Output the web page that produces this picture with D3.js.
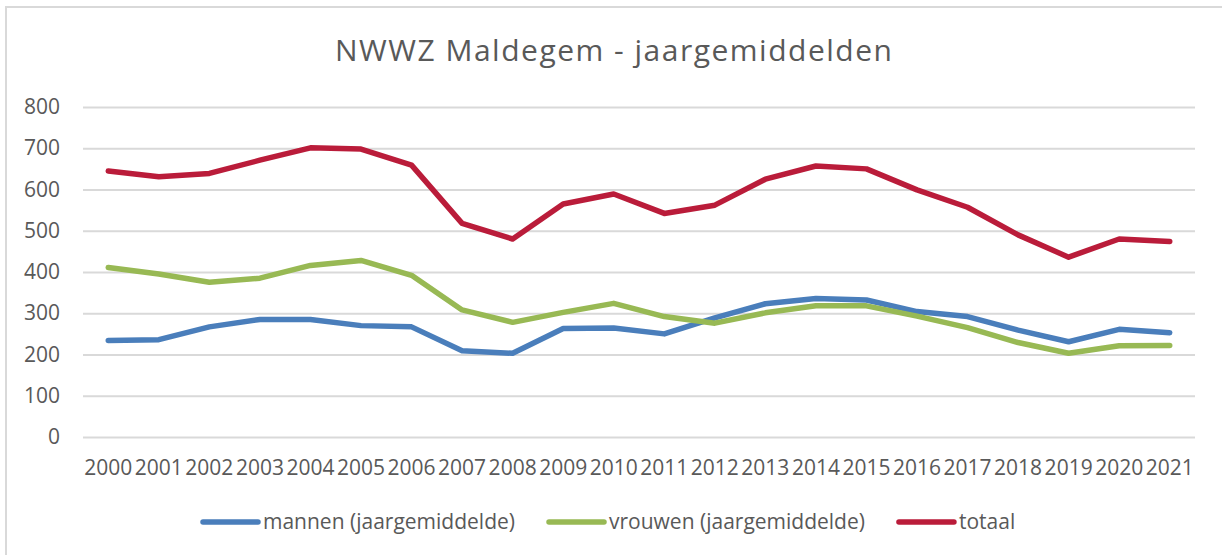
<!DOCTYPE html>
<html>
<head>
<meta charset="utf-8">
<script src="https://cdn.jsdelivr.net/npm/d3@7"></script>
<style>
  body { margin: 0; background: #fff; }
  text { font-family: "Open Sans", sans-serif; fill: #595959; }
</style>
</head>
<body>
<svg id="canvas" width="1222" height="555"></svg>
<script>
// data
var years = ['2000','2001','2002','2003','2004','2005','2006','2007','2008','2009','2010',
             '2011','2012','2013','2014','2015','2016','2017','2018','2019','2020','2021'];
var mannen = [234, 236, 267, 285, 285, 270, 267, 209, 203, 263, 264, 250, 289, 323, 336, 332, 304, 292, 259, 231, 261, 253];
var vrouwen = [411, 395, 375, 385, 416, 428, 392, 308, 278, 302, 324, 292, 276, 301, 318, 318, 293, 265, 229, 203, 221, 222];
var totaal = [645, 631, 639, 671, 701, 698, 659, 518, 480, 565, 589, 542, 562, 625, 657, 650, 599, 557, 490, 436, 480, 474];
var seriesNames = ['mannen (jaargemiddelde)', 'vrouwen (jaargemiddelde)', 'totaal'];
var seriesColors = ['#4A7EBB', '#98B954', '#BA1C3A'];
var yTicks = [0, 100, 200, 300, 400, 500, 600, 700, 800];
var title = 'NWWZ Maldegem - jaargemiddelden';

var series = [mannen, vrouwen, totaal].map(function (vals, i) {
  return { name: seriesNames[i], color: seriesColors[i], values: vals };
});

var svg = d3.select('#canvas');
var plot = { left: 83, right: 1195, top: 107, bottom: 437 };

// chart frame (runs off the right and bottom edge in the reference)
svg.append('rect')
  .attr('x', 6).attr('y', 7)
  .attr('width', 1240).attr('height', 570)
  .attr('fill', '#fff')
  .attr('stroke', '#d9d9d9')
  .attr('stroke-width', 2);

var x = d3.scaleBand().domain(years).range([plot.left, plot.right]);
var y = d3.scaleLinear().domain([0, 800]).range([plot.bottom, plot.top]);

// title
svg.append('text')
  .attr('x', 335).attr('y', 61)
  .style('font-size', '30px')
  .style('letter-spacing', '1.5px')
  .text(title);

// y axis + gridlines
var yAxis = svg.append('g')
  .attr('transform', 'translate(' + plot.left + ',0)')
  .call(d3.axisLeft(y).tickValues(yTicks).tickSize(-(plot.right - plot.left)).tickPadding(23));
yAxis.select('.domain').remove();
yAxis.selectAll('line').attr('stroke', '#d9d9d9').attr('stroke-width', 2);
yAxis.selectAll('text').style('font-size', '21px').attr('fill', '#595959');

// x axis labels
var xAxis = svg.append('g')
  .attr('transform', 'translate(0,' + plot.bottom + ')')
  .call(d3.axisBottom(x).tickSize(0).tickPadding(23));
xAxis.select('.domain').remove();
xAxis.selectAll('text').style('font-size', '21px').attr('fill', '#595959');

// lines
var line = d3.line()
  .x(function (d, i) { return x(years[i]) + x.bandwidth() / 2; })
  .y(function (d) { return y(d); });

svg.selectAll('path.serie')
  .data(series)
  .enter()
  .append('path')
  .attr('class', 'serie')
  .attr('d', function (d) { return line(d.values); })
  .attr('fill', 'none')
  .attr('stroke', function (d) { return d.color; })
  .attr('stroke-width', 5.5)
  .attr('stroke-linejoin', 'round')
  .attr('stroke-linecap', 'round');

// legend
var legendX = 203, legendY = 522;
series.forEach(function (s) {
  var g = svg.append('g').attr('transform', 'translate(' + legendX + ',' + legendY + ')');
  g.append('line')
    .attr('x1', 0).attr('x2', 55)
    .attr('stroke', s.color).attr('stroke-width', 5.5)
    .attr('stroke-linecap', 'round');
  var t = g.append('text')
    .attr('x', 60).attr('dy', '0.35em')
    .style('font-size', '21px')
    .text(s.name);
  legendX += 60 + t.node().getComputedTextLength() + 34;
});
</script>
</body>
</html>
